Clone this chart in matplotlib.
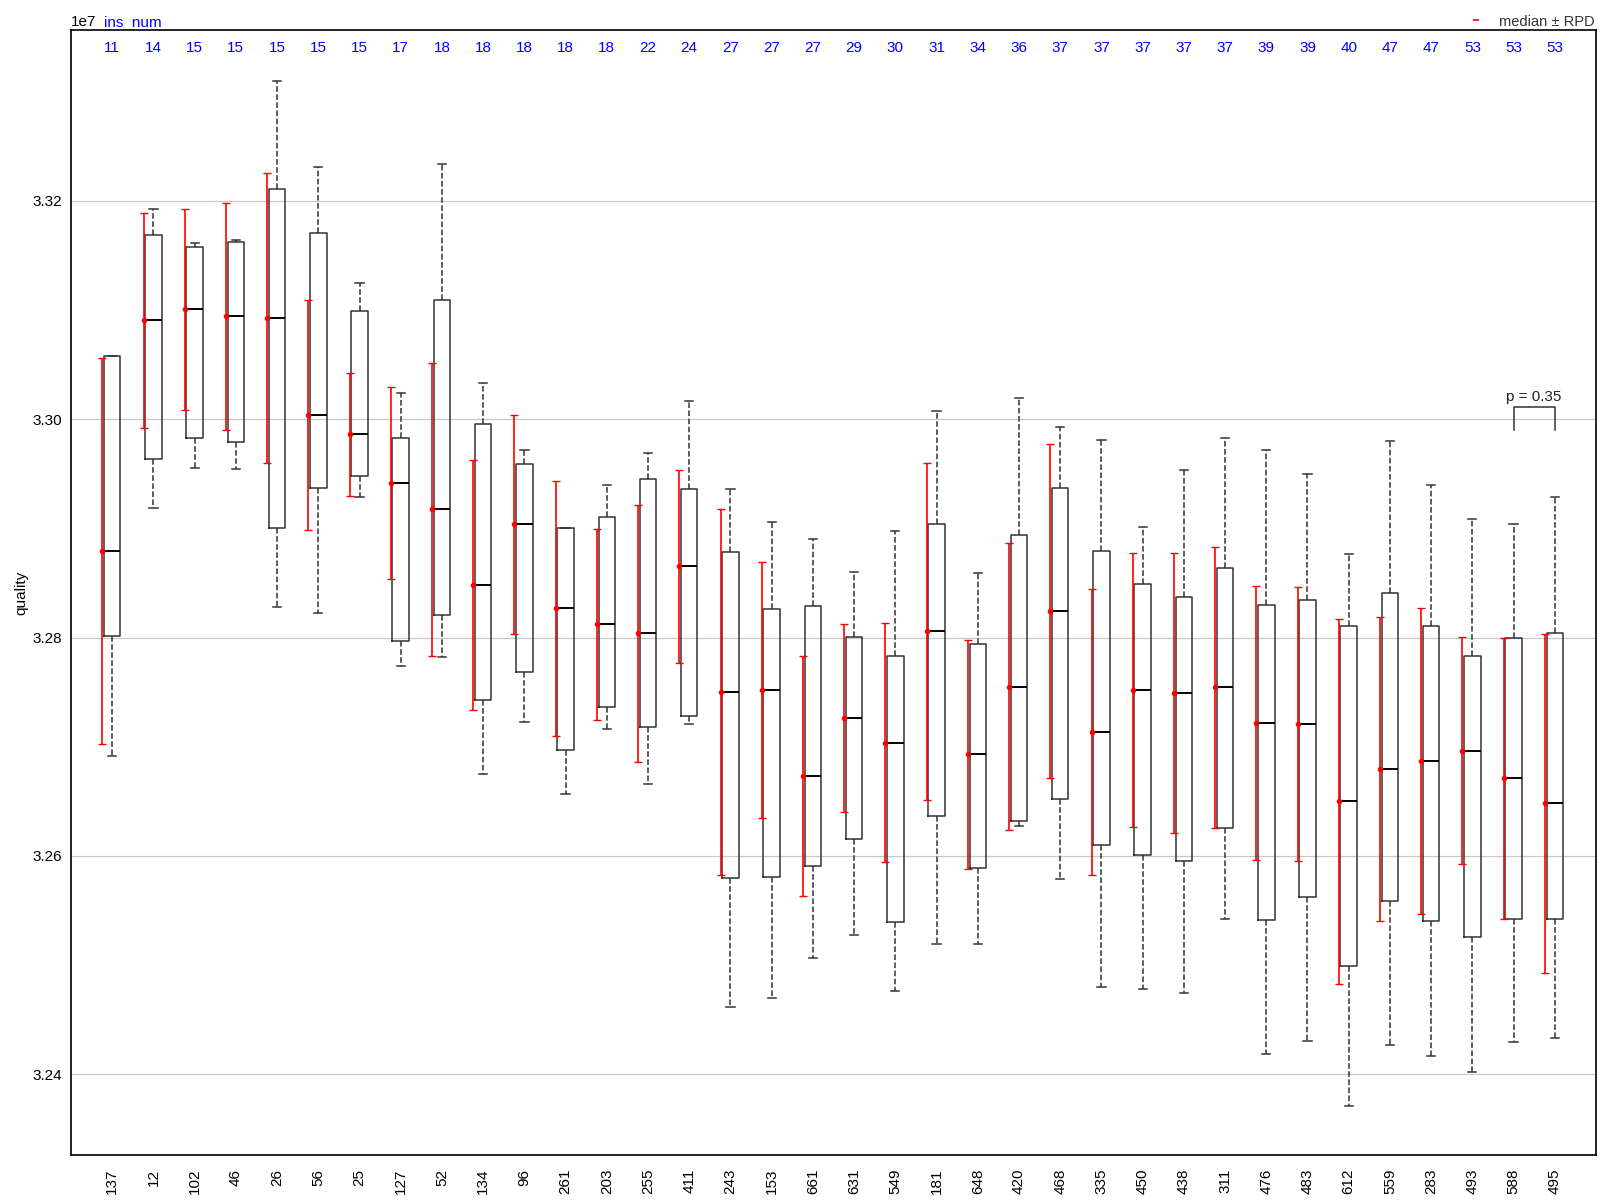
import matplotlib
matplotlib.use("Agg")
import matplotlib.pyplot as plt
from matplotlib.lines import Line2D
from matplotlib.ticker import MultipleLocator

plt.rcParams['font.family'] = ['Liberation Sans', 'DejaVu Sans']

# ---- data (values in units of 1e7) ----
labels = ['137', '12', '102', '46', '26', '56', '25', '127', '52', '134', '96', '261',
          '203', '255', '411', '243', '153', '661', '631', '549', '181', '648', '420', '468',
          '335', '450', '438', '311', '476', '483', '612', '559', '283', '493', '588', '495']
ins_num = [11, 14, 15, 15, 15, 15, 15, 17, 18, 18, 18, 18, 18, 22, 24, 27, 27, 27,
           29, 30, 31, 34, 36, 37, 37, 37, 37, 37, 39, 39, 40, 47, 47, 53, 53, 53]
whishi = [3.30582, 3.31924, 3.31614, 3.31639, 3.33101, 3.32310, 3.31247, 3.30241, 3.32335,
          3.30335, 3.29722, 3.29006, 3.29399, 3.29690, 3.30171, 3.29361, 3.29057, 3.28905,
          3.28601, 3.28975, 3.30076, 3.28589, 3.30190, 3.29930, 3.29810, 3.29013, 3.29538,
          3.29829, 3.29722, 3.29500, 3.28766, 3.29797, 3.29399, 3.29082, 3.29038, 3.29285]
q3 = [3.30576, 3.31690, 3.31582, 3.31620, 3.32108, 3.31703, 3.30987, 3.29829, 3.31089,
      3.29956, 3.29589, 3.29000, 3.29108, 3.29449, 3.29361, 3.28785, 3.28259, 3.28285,
      3.28006, 3.27829, 3.29038, 3.27937, 3.28937, 3.29373, 3.28797, 3.28487, 3.28367,
      3.28633, 3.28297, 3.28342, 3.28101, 3.28411, 3.28108, 3.27829, 3.27994, 3.28044]
median = [3.28791, 3.30905, 3.31006, 3.30943, 3.30924, 3.30038, 3.29861, 3.29418, 3.29177,
          3.28481, 3.29038, 3.28266, 3.28120, 3.28038, 3.28652, 3.27500, 3.27519, 3.26734,
          3.27259, 3.27038, 3.28057, 3.26930, 3.27551, 3.28241, 3.27133, 3.27519, 3.27494,
          3.27544, 3.27215, 3.27209, 3.26500, 3.26797, 3.26867, 3.26962, 3.26709, 3.26481]
q1 = [3.28013, 3.29639, 3.29829, 3.29791, 3.29006, 3.29373, 3.29481, 3.27968, 3.28203,
      3.27424, 3.27684, 3.26968, 3.27367, 3.27184, 3.27285, 3.25797, 3.25810, 3.25911,
      3.26152, 3.25392, 3.26367, 3.25892, 3.26316, 3.26525, 3.26095, 3.26006, 3.25956,
      3.26253, 3.25411, 3.25620, 3.24987, 3.25589, 3.25405, 3.25259, 3.25418, 3.25418]
whislo = [3.26911, 3.29190, 3.29557, 3.29544, 3.28278, 3.28222, 3.29291, 3.27741, 3.27823,
          3.26753, 3.27222, 3.26570, 3.27158, 3.26658, 3.27209, 3.24614, 3.24696, 3.25063,
          3.25278, 3.24759, 3.25196, 3.25196, 3.26272, 3.25791, 3.24797, 3.24778, 3.24741,
          3.25424, 3.24184, 3.24304, 3.23709, 3.24266, 3.24165, 3.24019, 3.24291, 3.24335]
rpd = [0.01766, 0.00987, 0.00924, 0.01038, 0.01329, 0.01051, 0.00566, 0.00880, 0.01342,
       0.01142, 0.01003, 0.01168, 0.00873, 0.01180, 0.00883, 0.01677, 0.01171, 0.01101,
       0.00861, 0.01092, 0.01541, 0.01051, 0.01313, 0.01528, 0.01313, 0.01256, 0.01282,
       0.01288, 0.01253, 0.01256, 0.01671, 0.01392, 0.01402, 0.01041, 0.01291, 0.01554]
p_value_text = 'p = 0.35'
SCALE = 1e7

# ---- figure ----
fig = plt.figure(figsize=(16.07, 12.01), dpi=100)
ax = fig.add_axes([71 / 1607, 1 - 1155 / 1201, 1525 / 1607, 1125 / 1201])

n = len(labels)
pos = list(range(n))
stats = []
for i in range(n):
    stats.append(dict(med=median[i] * SCALE, q1=q1[i] * SCALE, q3=q3[i] * SCALE,
                      whislo=whislo[i] * SCALE, whishi=whishi[i] * SCALE, fliers=[]))

edge = '#333333'
ax.bxp(stats, positions=pos, widths=0.4, showfliers=False, patch_artist=False,
       boxprops=dict(color=edge, linewidth=1.1),
       medianprops=dict(color='black', linewidth=1.4),
       whiskerprops=dict(color=edge, linewidth=1.1, linestyle='--'),
       capprops=dict(color=edge, linewidth=1.1))

ax.errorbar([p - 0.24 for p in pos], [m * SCALE for m in median],
            yerr=[r * SCALE for r in rpd], fmt='o', color='red', markersize=3,
            elinewidth=1.2, capsize=3, capthick=1.0, zorder=3)

# top ins_num counts
for p, c in zip(pos, ins_num):
    ax.text(p, 0.984, str(c), transform=ax.get_xaxis_transform(), color='blue',
            ha='center', va='center', fontsize=11)
ax.text(0.0215, 1.001, 'ins_num', transform=ax.transAxes, color='blue',
        ha='left', va='bottom', fontsize=11)

# significance bracket between last two
y_top = 3.30108 * SCALE
y_leg = 3.29899 * SCALE
ax.plot([n - 2, n - 2, n - 1, n - 1], [y_leg, y_top, y_top, y_leg], color=edge, linewidth=1.1)
ax.text(n - 1.5, 3.30135 * SCALE, p_value_text, ha='center', va='bottom', fontsize=11, color='#222222')

ax.set_xlim(-1, n)
ax.set_ylim(3.23259 * SCALE, 3.33566 * SCALE)
ax.yaxis.set_major_locator(MultipleLocator(0.02 * SCALE))
ax.ticklabel_format(axis='y', style='sci', scilimits=(0, 0), useOffset=False)
ax.yaxis.get_offset_text().set_fontsize(11)
ax.set_xticks(pos)
ax.set_xticklabels(labels, rotation=90, fontsize=11)
ax.tick_params(axis='x', length=0, pad=10, labelsize=11)
ax.tick_params(axis='y', length=0, pad=6.5, labelsize=11)
ax.set_ylabel('quality', fontsize=11, labelpad=3)
ax.grid(axis='y', color='#c8c8c8', linewidth=0.9)
ax.set_axisbelow(True)
for s in ax.spines.values():
    s.set_linewidth(1.2)
    s.set_color('black')

handle = Line2D([0], [0], color='red', marker='_', linestyle='None', markersize=5, markeredgewidth=1.2)
ax.legend([handle], ['median ± RPD'], loc='lower right', bbox_to_anchor=(1.0, 1.0),
          frameon=False, fontsize=10.5, borderaxespad=0.0, borderpad=0.1,
          handlelength=1.5, labelcolor='#333333')

fig.savefig('out.png', dpi=100)
